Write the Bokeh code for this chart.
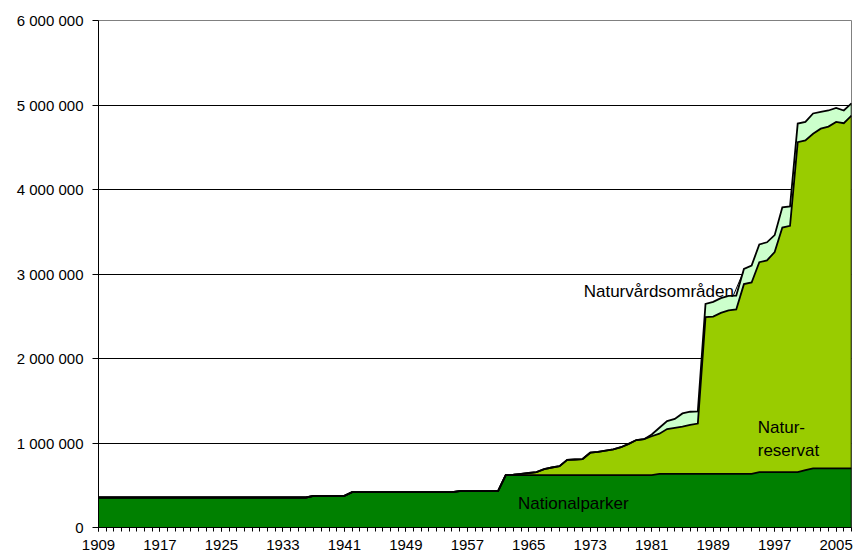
from bokeh.plotting import figure
from bokeh.models import Range1d, FixedTicker, Label, ColumnDataSource
from bokeh.transform import stack
from bokeh.embed import file_html
from bokeh.resources import INLINE

# ---------------- data (hectares) ----------------
years = list(range(1909, 2008))

natpark = [
    355000, 355000, 355000, 355000, 355000, 355000, 355000, 355000, 355000, 355000,  # 1909-1918
    355000, 355000, 355000, 355000, 355000, 355000, 355000, 355000, 355000, 355000,  # 1919-1928
    355000, 355000, 355000, 355000, 355000, 355000, 355000, 355000, 375000, 375000,  # 1929-1938
    375000, 375000, 375000, 418000, 418000, 418000, 418000, 418000, 418000, 418000,  # 1939-1948
    418000, 418000, 418000, 418000, 418000, 418000, 418000, 430000, 430000, 430000,  # 1949-1958
    430000, 430000, 430000, 620000, 620000, 620000, 620000, 620000, 620000, 620000,  # 1959-1968
    620000, 620000, 620000, 620000, 620000, 620000, 620000, 620000, 620000, 620000,  # 1969-1978
    620000, 620000, 620000, 635000, 635000, 635000, 635000, 635000, 635000, 635000,  # 1979-1988
    635000, 635000, 635000, 635000, 635000, 635000, 655000, 655000, 655000, 655000,  # 1989-1998
    655000, 655000, 680000, 700000, 700000, 700000, 700000, 700000, 700000,          # 1999-2007
]

natres = [
    0, 0, 0, 0, 0, 0, 0, 0, 0, 0,                                                   # 1909-1918
    0, 0, 0, 0, 0, 0, 0, 0, 0, 0,                                                   # 1919-1928
    0, 0, 0, 0, 0, 0, 0, 0, 0, 0,                                                   # 1929-1938
    0, 0, 0, 0, 0, 0, 0, 0, 0, 0,                                                   # 1939-1948
    0, 0, 0, 0, 0, 0, 0, 0, 0, 0,                                                   # 1949-1958
    0, 0, 0, 0, 5000, 15000, 25000, 35000, 70000, 90000,                            # 1959-1968
    105000, 180000, 185000, 190000, 265000, 275000, 290000, 305000, 330000, 370000,  # 1969-1978
    415000, 425000, 460000, 475000, 530000, 545000, 560000, 580000, 595000, 1855000,  # 1979-1988
    1860000, 1905000, 1935000, 1945000, 2245000, 2265000, 2485000, 2505000, 2605000, 2895000,  # 1989-1998
    2915000, 3905000, 3900000, 3960000, 4020000, 4045000, 4100000, 4085000, 4175000,  # 1999-2007
]

natvard = [
    0, 0, 0, 0, 0, 0, 0, 0, 0, 0,                                                   # 1909-1918
    0, 0, 0, 0, 0, 0, 0, 0, 0, 0,                                                   # 1919-1928
    0, 0, 0, 0, 0, 0, 0, 0, 0, 0,                                                   # 1929-1938
    0, 0, 0, 0, 0, 0, 0, 0, 0, 0,                                                   # 1939-1948
    0, 0, 0, 0, 0, 0, 0, 0, 0, 0,                                                   # 1949-1958
    0, 0, 0, 0, 0, 0, 0, 0, 0, 0,                                                   # 1959-1968
    0, 0, 0, 0, 0, 0, 0, 0, 0, 0,                                                   # 1969-1978
    0, 0, 20000, 70000, 95000, 105000, 155000, 155000, 145000, 155000,              # 1979-1988
    175000, 175000, 170000, 165000, 180000, 200000, 210000, 215000, 200000, 240000,  # 1989-1998
    230000, 220000, 220000, 240000, 200000, 190000, 165000, 150000, 145000,          # 1999-2007
]

x_label_years = [1909, 1917, 1925, 1933, 1941, 1949, 1957, 1965, 1973, 1981, 1989, 1997, 2005]
y_ticks = [0, 1000000, 2000000, 3000000, 4000000, 5000000, 6000000]
y_tick_labels = ["0", "1 000 000", "2 000 000", "3 000 000", "4 000 000", "5 000 000", "6 000 000"]

series_names = ["natpark", "natres", "natvard"]
series_colors = ["#008000", "#99CC00", "#CCFFCC"]

assert len(natpark) == len(years) == len(natres) == len(natvard)

FONT = "Liberation Sans"

source = ColumnDataSource(dict(year=years, natpark=natpark, natres=natres, natvard=natvard))

p = figure(width=854, height=557, output_backend="svg", toolbar_location=None,
           x_range=Range1d(years[0], years[-1]), y_range=Range1d(0, 6000000),
           min_border_left=98, min_border_right=3, min_border_top=20, min_border_bottom=30)
p.background_fill_color = "white"
p.border_fill_color = "white"
p.outline_line_color = "#808080"
p.outline_line_width = 1

# filled stacked areas
p.varea_stack(stackers=series_names, x="year", color=series_colors, source=source)

# black borders on top of each layer
for i in range(len(series_names)):
    p.line(x="year", y=stack(*series_names[:i + 1]), source=source,
           line_color="black", line_width=1.8, line_join="miter")

# right-hand edge of the areas
total_last = natpark[-1] + natres[-1] + natvard[-1]
p.segment(x0=[years[-1]], y0=[0], x1=[years[-1]], y1=[total_last], line_color="black", line_width=1.5)

# axes
p.xaxis.ticker = FixedTicker(ticks=x_label_years, minor_ticks=years)
p.yaxis.ticker = FixedTicker(ticks=y_ticks)
p.yaxis.major_label_overrides = {t: s for t, s in zip(y_ticks, y_tick_labels)}

for ax in (p.xaxis[0], p.yaxis[0]):
    ax.axis_line_color = "black"
    ax.axis_line_width = 1
    ax.major_tick_line_color = "black"
    ax.major_tick_in = 0
    ax.major_label_text_font = FONT
    ax.major_label_text_font_size = "15px"
    ax.major_label_text_color = "black"

p.xaxis.major_tick_out = 4
p.xaxis.minor_tick_out = 4
p.xaxis.minor_tick_in = 0
p.xaxis.minor_tick_line_color = "black"
p.xaxis.major_label_standoff = 8

p.yaxis.major_tick_out = 6
p.yaxis.minor_tick_line_color = None
p.yaxis.major_label_standoff = 9

p.xgrid.grid_line_color = None
p.ygrid.grid_line_color = "black"
p.ygrid.grid_line_width = 1

# in-chart labels
def add_label(x, y, text, align="left"):
    p.add_layout(Label(x=x, y=y, text=text, text_align=align, text_baseline="alphabetic",
                       text_font=FONT, text_font_size="17px", text_color="black"))

add_label(1991.7, 2790000, "Naturvårdsområden", align="right")
add_label(1994.8, 1187000, "Natur-")
add_label(1994.8, 911000, "reservat")
add_label(1963.6, 284000, "Nationalparker")

# leader line for Naturvårdsområden
p.segment(x0=[1991.6], y0=[2740000], x1=[1992.9], y1=[3020000], line_color="black", line_width=1)

open("out.html", "w").write(file_html(p, INLINE))
